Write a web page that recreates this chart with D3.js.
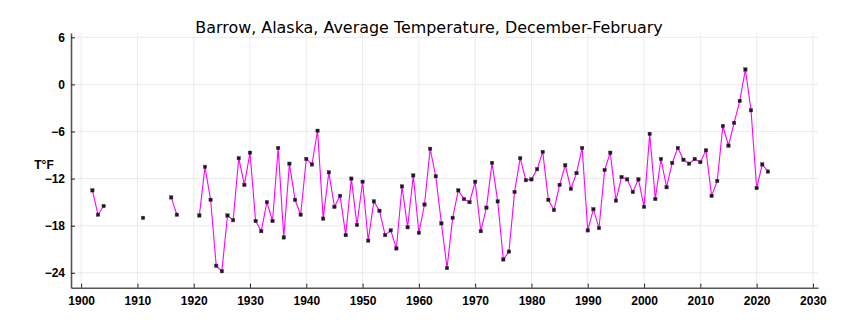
<!DOCTYPE html>
<html><head><meta charset="utf-8">
<script src="https://cdn.jsdelivr.net/npm/d3@7"></script>
<style>body{margin:0;background:#fff}svg{display:block}</style>
</head><body>
<svg id="c" width="856" height="323"></svg>
<script>
const years = [1902,1903,1904,1905,1906,1907,1908,1909,1910,1911,1912,1913,1914,1915,1916,1917,1918,1919,1920,
1921,1922,1923,1924,1925,1926,1927,1928,1929,1930,1931,1932,1933,1934,1935,1936,1937,1938,1939,1940,
1941,1942,1943,1944,1945,1946,1947,1948,1949,1950,1951,1952,1953,1954,1955,1956,1957,1958,1959,1960,
1961,1962,1963,1964,1965,1966,1967,1968,1969,1970,1971,1972,1973,1974,1975,1976,1977,1978,1979,1980,
1981,1982,1983,1984,1985,1986,1987,1988,1989,1990,1991,1992,1993,1994,1995,1996,1997,1998,1999,2000,
2001,2002,2003,2004,2005,2006,2007,2008,2009,2010,2011,2012,2013,2014,2015,2016,2017,2018,2019,2020,
2021,2022];
const temps = [-13.5,-16.6,-15.5,null,null,null,null,null,null,-17.0,null,null,null,null,-14.4,-16.6,null,null,null,
-16.7,-10.5,-14.7,-23.1,-23.8,-16.7,-17.3,-9.4,-12.8,-8.7,-17.4,-18.7,-15.0,-17.4,-8.1,-19.5,-10.1,-14.7,-16.6,-9.5,
-10.2,-5.9,-17.1,-11.2,-15.6,-14.2,-19.2,-12.0,-17.9,-12.4,-19.9,-14.9,-16.1,-19.2,-18.6,-20.9,-13.0,-18.2,-11.6,-18.9,
-15.3,-8.2,-11.7,-17.7,-23.4,-17.0,-13.5,-14.6,-15.0,-12.4,-18.7,-15.7,-10.0,-14.9,-22.3,-21.3,-13.7,-9.4,-12.2,-12.1,
-10.8,-8.6,-14.7,-16.0,-12.8,-10.3,-13.3,-11.3,-8.1,-18.6,-15.9,-18.3,-10.9,-8.7,-14.8,-11.8,-12.1,-13.7,-12.1,-15.6,
-6.3,-14.6,-9.5,-13.1,-10.0,-8.1,-9.6,-10.1,-9.5,-9.9,-8.4,-14.2,-12.3,-5.3,-7.8,-4.9,-2.1,1.9,-3.3,-13.2,
-10.2,-11.1];
const xTicks = [1900,1910,1920,1930,1940,1950,1960,1970,1980,1990,2000,2010,2020,2030];
const yTicks = [6,0,-6,-12,-18,-24];
const title = "Barrow, Alaska, Average Temperature, December-February";
const yLabel = "T°F";

const data = years.map((y,i)=>({year:y, t:temps[i]}));
const svg = d3.select("#c");
const L=71, R=818, T=33, B=287.7;
const x = d3.scaleLinear().domain([1898.2, 2030.9]).range([L, R]);
const y = d3.scaleLinear().domain([-25.9, 6.55]).range([B, T]);

// grid
svg.append("g").selectAll("line").data(xTicks).join("line")
  .attr("x1",d=>x(d)).attr("x2",d=>x(d)).attr("y1",T).attr("y2",B)
  .attr("stroke","#ebebeb").attr("stroke-width",1);
svg.append("g").selectAll("line").data(yTicks).join("line")
  .attr("y1",d=>y(d)).attr("y2",d=>y(d)).attr("x1",L).attr("x2",R)
  .attr("stroke","#ebebeb").attr("stroke-width",1);

// axes
const font = "'Liberation Sans', Arial, sans-serif";
const xa = svg.append("g").attr("transform",`translate(0,${B})`)
  .call(d3.axisBottom(x).tickValues(xTicks).tickFormat(d3.format("d")).tickSizeInner(-4).tickSizeOuter(0).tickPadding(9));
const ya = svg.append("g").attr("transform",`translate(${L},0)`)
  .call(d3.axisLeft(y).tickValues(yTicks).tickFormat(d3.format("d")).tickSizeInner(-4).tickSizeOuter(0).tickPadding(6));
[xa,ya].forEach(a=>{
  a.select(".domain").attr("stroke","#555").attr("stroke-width",1.6);
  a.selectAll(".tick line").attr("stroke","#222").attr("stroke-width",1);
  a.selectAll(".tick text").attr("font-family",font).attr("font-weight","bold").attr("font-size",12).attr("fill","#000");
});

// line
const line = d3.line().defined(d=>d.t!==null).x(d=>x(d.year)).y(d=>y(d.t));
svg.append("path").datum(data).attr("d",line).attr("fill","none")
  .attr("stroke","#ff00ff").attr("stroke-width",1.1);
// isolated points & markers
svg.append("g").selectAll("rect").data(data.filter(d=>d.t!==null)).join("rect")
  .attr("x",d=>x(d.year)-1.7).attr("y",d=>y(d.t)-1.7).attr("width",3.4).attr("height",3.4)
  .attr("fill","#1a1a1a").attr("stroke","#5a2a5a").attr("stroke-width",0.4);

// title
const tt = svg.append("text").attr("x",429).attr("y",33).attr("text-anchor","middle")
  .attr("font-family","'DejaVu Sans', sans-serif").attr("font-size",16).attr("fill","#000").text(title);
const w = tt.node().getComputedTextLength();
tt.attr("font-size", 16*468/w);

// y label
svg.append("text").attr("x",44).attr("y",169).attr("text-anchor","middle")
  .attr("font-family",font).attr("font-weight","bold").attr("font-size",12).text(yLabel);
</script>
</body></html>
